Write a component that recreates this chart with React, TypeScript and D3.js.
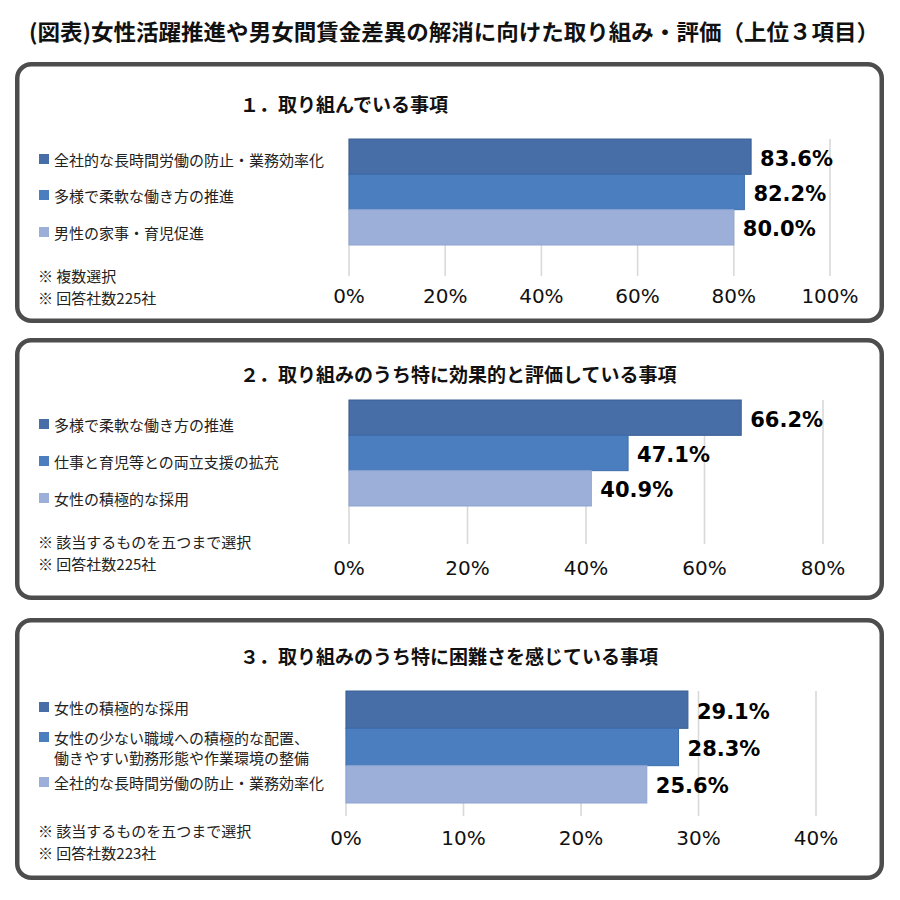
import * as d3 from "d3";

// main title
const mainTitle = "(図表)女性活躍推進や男女間賃金差異の解消に向けた取り組み・評価（上位３項目）";

// panel 1
const p1Title = "１．取り組んでいる事項";
const p1Labels = ["全社的な長時間労働の防止・業務効率化", "多様で柔軟な働き方の推進", "男性の家事・育児促進"];
const p1Values = [83.6, 82.2, 80.0];
const p1Ticks = [0, 20, 40, 60, 80, 100];
const p1Notes = ["※ 複数選択", "※ 回答社数225社"];

// panel 2
const p2Title = "２．取り組みのうち特に効果的と評価している事項";
const p2Labels = ["多様で柔軟な働き方の推進", "仕事と育児等との両立支援の拡充", "女性の積極的な採用"];
const p2Values = [66.2, 47.1, 40.9];
const p2Ticks = [0, 20, 40, 60, 80];
const p2Notes = ["※ 該当するものを五つまで選択", "※ 回答社数225社"];

// panel 3
const p3Title = "３．取り組みのうち特に困難さを感じている事項";
const p3Labels = [
  ["女性の積極的な採用"],
  ["女性の少ない職域への積極的な配置、", "働きやすい勤務形態や作業環境の整備"],
  ["全社的な長時間労働の防止・業務効率化"],
];
const p3Values = [29.1, 28.3, 25.6];
const p3Ticks = [0, 10, 20, 30, 40];
const p3Notes = ["※ 該当するものを五つまで選択", "※ 回答社数223社"];

const barFills = ["#476ea6", "#4a7ebf", "#9bafd9"];
const barStrokes = ["#3b5f96", "#3c6cad", "#8da4d1"];

const jp = "'Noto Sans CJK JP', 'Noto Sans', sans-serif";
const num = "'DejaVu Sans', Verdana, sans-serif";

interface PanelProps {
  title: string;
  labels: string[][];
  values: number[];
  ticks: number[];
  notes: string[];
  box: [number, number]; // top, bottom
  xRange: [number, number];
  band: [number, number];
  gridBottom: number;
  tickY: number;
  titleY: number;
  legendY: number[][];
  notesY: number[];
}

const Panel = ({ title, labels, values, ticks, notes, box, xRange, band, gridBottom, tickY, titleY, legendY, notesY }: PanelProps) => {
  const x = d3.scaleLinear().domain([ticks[0], ticks[ticks.length - 1]]).range(xRange);
  const y = d3.scaleBand<number>().domain(values.map((_, i) => i)).range(band).padding(0);
  const sw = 4.5;
  return (
    <g>
      <rect x={15 + sw / 2} y={box[0] + sw / 2} width={869 - sw} height={box[1] - box[0] - sw}
        rx={14} fill="#fff" stroke="#4d4d4d" strokeWidth={sw} />
      <text x={240} y={titleY} fontFamily={jp} fontWeight="bold" fontSize={19} dominantBaseline="central" fill="#111">{title}</text>
      {ticks.map(t => (
        <line key={"g" + t} x1={x(t)} x2={x(t)} y1={band[0]} y2={gridBottom} stroke="#d9d9d9" strokeWidth={1.6} />
      ))}
      {values.map((v, i) => (
        <rect key={"b" + i} x={x(0)} y={y(i)} width={x(v) - x(0)} height={y.bandwidth()}
          fill={barFills[i]} stroke={barStrokes[i]} strokeWidth={1} />
      ))}
      {values.map((v, i) => (
        <text key={"v" + i} x={x(v) + 9} y={y(i)! + y.bandwidth() / 2 + 2} fontFamily={num} fontWeight="bold"
          fontSize={21} dominantBaseline="central" fill="#000">{v.toFixed(1)}%</text>
      ))}
      {ticks.map(t => (
        <text key={"t" + t} x={x(t)} y={tickY} fontFamily={num} fontSize={20} textAnchor="middle"
          dominantBaseline="central" fill="#111">{t}%</text>
      ))}
      {labels.map((lines, i) => (
        <g key={"l" + i}>
          <rect x={39} y={legendY[i][0] - 5} width={10} height={10} fill={barFills[i]} />
          {lines.map((s, j) => (
            <text key={j} x={54} y={legendY[i][j]} fontFamily={jp} fontSize={15} dominantBaseline="central" fill="#222">{s}</text>
          ))}
        </g>
      ))}
      {notes.map((s, i) => (
        <text key={"n" + i} x={38} y={notesY[i]} fontFamily={jp} fontSize={15} dominantBaseline="central" fill="#222">{s}</text>
      ))}
    </g>
  );
};

export default function App() {
  return (
    <svg width={900} height={900} style={{ position: "absolute", left: 0, top: 0, background: "#fff" }}>
      <text x={454} y={30} fontFamily={jp} fontWeight="bold" fontSize={22} textAnchor="middle"
        dominantBaseline="central" fill="#111" textLength={850} lengthAdjust="spacingAndGlyphs">{mainTitle}</text>
      <Panel title={p1Title} labels={p1Labels.map(s => [s])} values={p1Values} ticks={p1Ticks} notes={p1Notes}
        box={[62, 323]} xRange={[349, 830]} band={[139, 245]} gridBottom={276} tickY={296} titleY={103}
        legendY={[[159], [195], [232]]} notesY={[275, 297]} />
      <Panel title={p2Title} labels={p2Labels.map(s => [s])} values={p2Values} ticks={p2Ticks} notes={p2Notes}
        box={[338, 600]} xRange={[349, 823]} band={[400, 506]} gridBottom={544} tickY={568} titleY={373}
        legendY={[[424], [461], [498]]} notesY={[541, 563]} />
      <Panel title={p3Title} labels={p3Labels} values={p3Values} ticks={p3Ticks} notes={p3Notes}
        box={[618, 880]} xRange={[346, 816]} band={[691, 803]} gridBottom={816} tickY={838} titleY={655}
        legendY={[[707], [737, 757], [782]]} notesY={[830, 852]} />
    </svg>
  );
}
